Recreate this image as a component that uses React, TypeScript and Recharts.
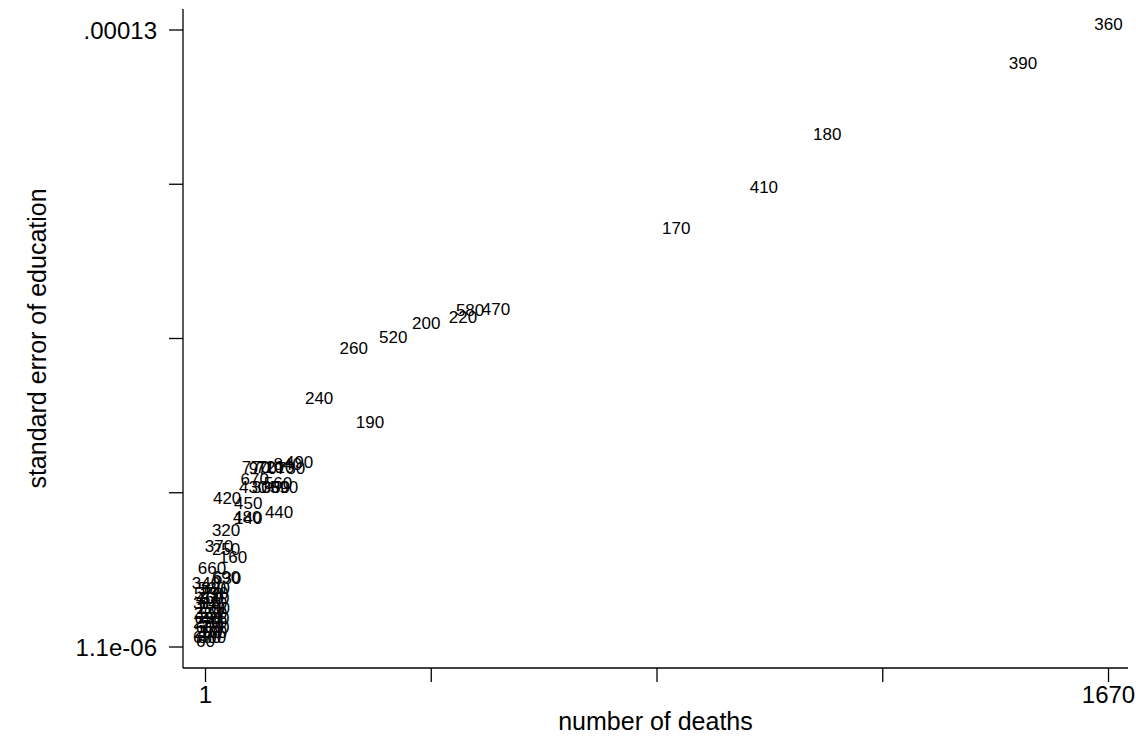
import { Label, Scatter, ScatterChart, XAxis, YAxis } from "recharts";

// region codes shown as marker labels
const regions = [
	360, 390, 180, 410, 170, 470, 580, 220, 200, 520, 260, 240, 190,
	770, 970, 710, 210, 730, 840, 490, 670, 560, 430, 300, 380, 590,
	420, 450, 440, 480, 140, 320, 370, 250, 160, 660, 690, 630,
	340, 530, 620, 570, 290, 460, 540, 310, 640, 270, 500, 350, 550,
	650, 400, 230, 510, 600, 130, 280, 150, 680, 800, 60,
];

const deaths = [
	1670, 1512, 1150, 1033, 871, 538, 490, 477, 409, 348, 275, 211, 305,
	94, 107, 120, 139, 159, 153, 174, 92, 135, 89, 113, 131, 146,
	41, 80, 137, 78, 80, 39, 26, 39, 52, 13, 39, 41,
	2, 13, 20, 6, 17, 9, 19, 4, 15, 11, 20, 6, 15,
	7, 19, 4, 15, 9, 19, 6, 15, 4, 13, 1,
];

const stdErr = [
	130.0e-6, 121.85e-6, 107.0e-6, 95.95e-6, 87.38e-6, 70.46e-6, 70.25e-6, 68.79e-6, 67.53e-6, 64.61e-6, 62.31e-6, 51.87e-6, 46.85e-6,
	37.45e-6, 37.24e-6, 37.45e-6, 37.45e-6, 37.24e-6, 38.08e-6, 38.5e-6, 34.94e-6, 34.11e-6, 33.27e-6, 33.27e-6, 33.27e-6, 33.27e-6,
	30.97e-6, 29.93e-6, 28.05e-6, 27.0e-6, 26.8e-6, 24.29e-6, 20.95e-6, 20.32e-6, 18.65e-6, 16.35e-6, 14.47e-6, 14.26e-6,
	13.22e-6, 12.17e-6, 12.17e-6, 11.13e-6, 11.13e-6, 10.08e-6, 10.08e-6, 9.04e-6, 9.04e-6, 7.99e-6, 7.99e-6, 6.95e-6, 6.95e-6,
	5.9e-6, 5.9e-6, 5.07e-6, 5.07e-6, 4.02e-6, 4.02e-6, 2.98e-6, 2.98e-6, 1.94e-6, 1.94e-6, 1.1e-6,
];

const xTicks = [1, 418.25, 835.5, 1252.75, 1670];
const xTickLabels = ["1", "", "", "", "1670"];
const yTicks = [1.1e-6, 33.325e-6, 65.55e-6, 97.775e-6, 130e-6];
const yTickLabels = ["1.1e-06", "", "", "", ".00013"];

const FONT = "'Liberation Sans', Arial, Helvetica, sans-serif";

const points = regions.map((r, i) => ({ region: r, deaths: deaths[i], se: stdErr[i] }));

function MarkerLabel(props: any) {
	const { cx, cy, payload } = props;
	return (
		<text x={cx} y={cy} textAnchor="middle" fontSize={17} fontFamily={FONT} fill="#000">
			{payload.region}
		</text>
	);
}

export default function App() {
	return (
		<div style={{ position: "absolute", left: 0, top: 0 }}>
			<ScatterChart width={1136} height={736} margin={{ top: 9, right: 8, bottom: 0, left: 0 }}>
				<XAxis
					type="number"
					dataKey="deaths"
					domain={[-40.6, 1706]}
					allowDataOverflow
					ticks={xTicks}
					tickFormatter={(v: number) => xTickLabels[xTicks.indexOf(v)] ?? ""}
					height={68}
					tickSize={14}
					tickMargin={4}
					axisLine={{ stroke: "#000", strokeWidth: 1.3 }}
					tickLine={{ stroke: "#000", strokeWidth: 1.3 }}
					tick={{ fill: "#000", fontSize: 24, fontFamily: FONT }}
				>
					<Label
						content={({ viewBox }: any) => (
							<text
								x={viewBox.x + viewBox.width / 2}
								y={730}
								textAnchor="middle"
								fontSize={25}
								fontFamily={FONT}
								fill="#000"
							>
								number of deaths
							</text>
						)}
					/>
				</XAxis>
				<YAxis
					type="number"
					dataKey="se"
					domain={[-3.287e-6, 134.387e-6]}
					allowDataOverflow
					ticks={yTicks}
					tickFormatter={(v: number) => yTickLabels[yTicks.indexOf(v)] ?? ""}
					width={183}
					tickSize={14}
					tickMargin={12}
					axisLine={{ stroke: "#000", strokeWidth: 1.3 }}
					tickLine={{ stroke: "#000", strokeWidth: 1.3 }}
					tick={{ fill: "#000", fontSize: 24, fontFamily: FONT }}
				>
					<Label
						content={({ viewBox }: any) => {
							const cy = viewBox.y + viewBox.height / 2;
							return (
								<text
									x={37}
									y={cy}
									transform={`rotate(-90 37 ${cy})`}
									textAnchor="middle"
									dominantBaseline="central"
									fontSize={25}
									fontFamily={FONT}
									fill="#000"
								>
									standard error of education
								</text>
							);
						}}
					/>
				</YAxis>
				<Scatter data={points} shape={MarkerLabel} isAnimationActive={false} />
			</ScatterChart>
		</div>
	);
}
